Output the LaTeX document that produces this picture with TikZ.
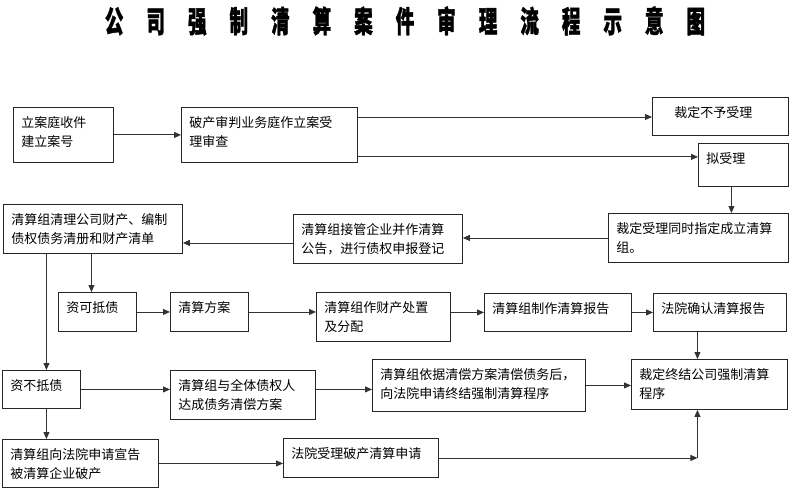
\documentclass[tikz,border=0pt]{standalone}
\usepackage{fontspec}
\newfontfamily\cjk{Noto Sans CJK SC}
\newfontfamily\cjkhead[FakeBold=1.5]{Noto Sans CJK SC}
\usetikzlibrary{arrows.meta}
\newcommand{\tgap}{\hspace{37pt}}
\tikzset{
    stepbox/.style 2 args={
    rectangle,draw=black!85,line width=0.9pt,anchor=north west,
    inner xsep=8pt,inner ysep=0pt,align=left,
    text width=#1,text height=20pt,text depth=#2,
    font=\cjk\fontsize{13}{19.5}\selectfont
    },
    flow/.style={
    draw=black!80,line width=0.9pt,-{Triangle[length=7pt,width=6pt]}
    },
    heading/.style={
    font=\cjkhead\bfseries\fontsize{30}{30}\selectfont,xscale=0.62,inner sep=0pt
    },
}
\begin{document}
\begin{tikzpicture}[x=1pt, y=-1pt]
  \useasboundingbox (0,0) rectangle (790,500);
  \node[heading] (title) at (405,21) {公\tgap 司\tgap 强\tgap 制\tgap 清\tgap 算\tgap 案\tgap 件\tgap 审\tgap 理\tgap 流\tgap 程\tgap 示\tgap 意\tgap 图};

  % first row
  \node[stepbox={84pt}{35pt}] (intake) at (13,107) {立案庭收件\\建立案号};
  \node[stepbox={160pt}{35pt}] (review) at (181,107) {破产审判业务庭作立案受\\理审查};
  \node[stepbox={120pt}{18pt}] (reject) at (652,97) {\hspace*{14pt}裁定不予受理};
  \node[stepbox={74pt}{23pt}] (accept) at (698,143) {拟受理};

  % second row
  \node[stepbox={164pt}{29pt}] (appoint) at (608,213) {裁定受理同时指定成立清算\\组。};
  \node[stepbox={153pt}{29pt}] (takeover) at (293,214) {清算组接管企业并作清算\\公告，进行债权申报登记};
  \node[stepbox={163pt}{29pt}] (sort) at (3,204) {清算组清理公司财产、编制\\债权债务清册和财产清单};

  % solvent branch
  \node[stepbox={62pt}{19pt}] (solvent) at (58,292) {资可抵债};
  \node[stepbox={62pt}{19pt}] (plan) at (170,292) {清算方案};
  \node[stepbox={118pt}{29pt}] (dispose) at (316,292) {清算组作财产处置\\及分配};
  \node[stepbox={131pt}{18pt}] (report) at (484,293) {清算组制作清算报告};
  \node[stepbox={117pt}{18pt}] (confirm) at (653,293) {法院确认清算报告};
  \node[stepbox={140pt}{30pt}] (close) at (631,359) {裁定终结公司强制清算\\程序};

  % insolvent branch
  \node[stepbox={62pt}{18pt}] (insolvent) at (2,370) {资不抵债};
  \node[stepbox={129pt}{29pt}] (agree) at (170,370) {清算组与全体债权人\\达成债务清偿方案};
  \node[stepbox={197pt}{32pt}] (repay) at (372,359) {清算组依据清偿方案清偿债务后，\\向法院申请终结强制清算程序};
  \node[stepbox={140pt}{28pt}] (bankrupt) at (2,439) {清算组向法院申请宣告\\被清算企业破产};
  \node[stepbox={139pt}{19pt}] (court) at (283,438) {法院受理破产清算申请};

  \path ([xshift=-12pt]close.south) coordinate (cs);
  \coordinate (bend) at (cs |- court.east);

  \draw[flow] (intake.east) -- (review.west);
  \draw[flow] ([yshift=-10pt]review.north east) -- ([yshift=-10pt]review.north east -| reject.west);
  \draw[flow] ([yshift=6pt]review.south east) -- ([yshift=6pt]review.south east -| accept.west);
  \draw[flow] ([xshift=-12pt]accept.south) -- ([xshift=-12pt]accept.south |- appoint.north);
  \draw[flow] (appoint.west) -- (appoint.west -| takeover.east);
  \draw[flow] ([yshift=-4pt]takeover.west) -- ([yshift=-4pt]takeover.west -| sort.east);
  \draw[flow] ([xshift=-6pt]solvent.north |- sort.south) -- ([xshift=-6pt]solvent.north);
  \draw[flow] ([xshift=5pt]insolvent.north |- sort.south) -- ([xshift=5pt]insolvent.north);
  \draw[flow] (solvent.east) -- (plan.west);
  \draw[flow] (plan.east) -- (plan.east -| dispose.west);
  \draw[flow] (dispose.east |- report.west) -- (report.west);
  \draw[flow] (report.east) -- (confirm.west);
  \draw[flow] ([xshift=-12pt]close.north |- confirm.south) -- ([xshift=-12pt]close.north);
  \draw[flow] (repay.east) -- (repay.east -| close.west);
  \draw[flow] (insolvent.east) -- (insolvent.east -| agree.west);
  \draw[flow] (insolvent.east -| agree.east) -- (insolvent.east -| repay.west);
  \draw[flow] ([xshift=5pt]insolvent.south) -- ([xshift=5pt]insolvent.south |- bankrupt.north);
  \draw[flow] (bankrupt.east) -- (bankrupt.east -| court.west);
  \draw[flow] (court.east) -- (bend);
  \draw[flow] (bend) -- (cs);
\end{tikzpicture}
\end{document}
